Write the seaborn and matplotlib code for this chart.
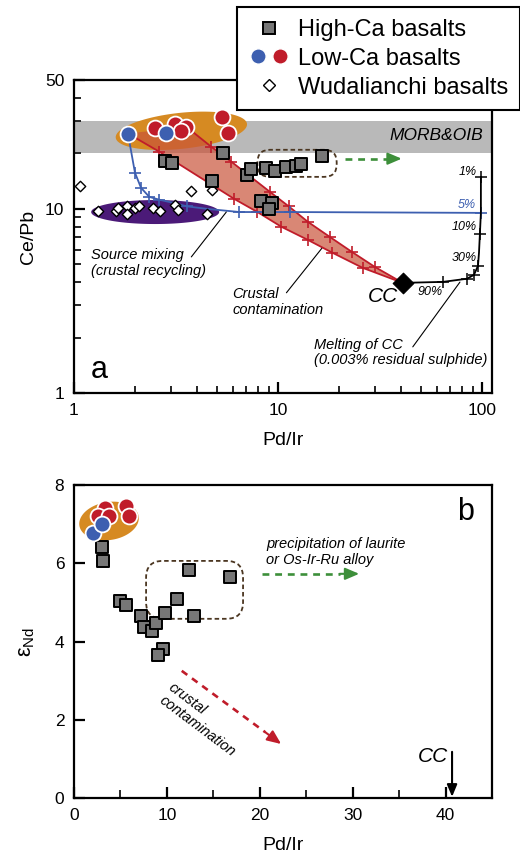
import numpy as np
import matplotlib
matplotlib.use("Agg")
import matplotlib.pyplot as plt
import seaborn as sns
from matplotlib.lines import Line2D
from matplotlib.legend_handler import HandlerTuple
from matplotlib.patches import FancyBboxPatch
from matplotlib.ticker import NullFormatter

# ---------------- panel a data (Pd/Ir vs Ce/Pb) ----------------
hica_pdir_a = [2.80, 3.03, 5.40, 4.77, 7.08, 7.41, 8.78, 9.72, 11.0, 12.3, 13.0, 16.5, 8.3, 9.4, 9.0]
hica_cepb_a = [18.2, 17.8, 20.2, 14.2, 15.3, 16.5, 16.7, 16.1, 16.9, 17.1, 17.4, 19.4, 11.0, 10.8, 10.0]
lowca_blue_pdir_a = [1.84, 2.83]
lowca_blue_cepb_a = [25.6, 25.9]
lowca_red_pdir_a = [2.50, 3.13, 3.55, 3.36, 5.34, 5.71]
lowca_red_cepb_a = [27.6, 29.0, 27.9, 26.5, 31.6, 25.9]
wuda_pdir = [1.07, 1.31, 1.61, 1.64, 1.82, 1.82, 1.99, 2.09, 2.44, 2.65, 3.13, 3.24, 3.76, 4.77, 4.51]
wuda_cepb = [13.3, 9.75, 9.75, 10.1, 10.4, 9.4, 10.1, 10.4, 10.1, 9.75, 10.5, 9.9, 12.5, 12.7, 9.4]
morb_oib_cepb = [20, 30]
cc_pdir, cc_cepb = 40.9, 3.96

# source mixing curve
mix_pdir = [1.84, 1.88, 1.99, 2.13, 2.34, 2.62, 3.03, 3.59, 4.45, 6.47, 11.4, 99.0]
mix_cepb = [25.6, 22.3, 15.7, 13.0, 11.6, 11.2, 10.8, 10.3, 10.0, 9.6, 9.6, 9.5]
mix_mark_idx = [2, 3, 4, 5, 7, 9, 10, 11]

# crustal contamination band (upper & lower curves)
cont_up_pdir = [3.55, 4.71, 5.91, 9.09, 11.3, 14.0, 17.9, 23.0, 29.8, 40.9]
cont_up_cepb = [27.9, 21.7, 18.0, 12.4, 10.3, 8.5, 7.05, 5.84, 4.84, 3.96]
cont_lo_pdir = [1.84, 2.62, 6.11, 7.93, 10.4, 14.0, 18.5, 26.0, 40.9]
cont_lo_cepb = [25.6, 20.4, 11.3, 9.6, 7.98, 6.78, 5.77, 4.78, 3.96]

# melting of CC curve
melt_pdir = [40.9, 64.3, 84.4, 91.4, 95.6, 96.7, 97.7, 98.8, 98.8]
melt_cepb = [3.96, 4.01, 4.17, 4.38, 4.90, 5.77, 7.32, 9.5, 14.9]
melt_mark_idx = [1, 2, 3, 4, 6, 8]
melt_labels = ["90%", "30%", "10%", "1%"]
melt_label_pdir = [55.5, 94.5, 94.5, 94.5]
melt_label_cepb = [3.54, 5.42, 7.98, 15.9]

# ---------------- panel b data (Pd/Ir vs eNd) ----------------
hica_pdir_b = [3.0, 3.1, 5.0, 5.6, 7.2, 7.5, 8.4, 8.8, 9.8, 11.1, 12.4, 16.8, 12.9, 9.6, 9.05]
hica_end_b = [6.42, 6.06, 5.04, 4.94, 4.65, 4.37, 4.27, 4.48, 4.73, 5.09, 5.83, 5.65, 4.65, 3.81, 3.66]
lowca_blue_pdir_b = [2.05, 3.02]
lowca_blue_end_b = [6.78, 7.01]
lowca_red_pdir_b = [3.34, 2.59, 3.77, 5.60, 5.93]
lowca_red_end_b = [7.42, 7.21, 7.21, 7.47, 7.21]
cc_pdir_b = 40.7

# ---------------- style ----------------
sns.set_theme(style="ticks")
plt.rcParams["font.family"] = ["Liberation Sans", "DejaVu Sans"]
plt.rcParams["mathtext.fontset"] = "custom"
plt.rcParams["mathtext.rm"] = "Liberation Sans"
plt.rcParams["mathtext.it"] = "Liberation Sans:italic"
plt.rcParams["text.color"] = "black"
plt.rcParams["axes.labelcolor"] = "black"

GRAY_SQ = "#777777"
BLUE = "#3d5fb0"
RED = "#c01c2a"
ORANGE = "#d68a22"
PURPLE = "#4b1a78"
GREEN = "#3d8f3a"
BROWN = "#4b3621"
BAND = "#c9553a"

W, H = 520, 860
fig = plt.figure(figsize=(5.2, 8.6), dpi=100)


def axpos(l, t, r, b):
    return [l / W, 1 - b / H, (r - l) / W, (b - t) / H]


ax1 = fig.add_axes(axpos(74, 80, 492, 393))
ax2 = fig.add_axes(axpos(74, 485, 492, 798))

for ax in (ax1, ax2):
    for s in ax.spines.values():
        s.set_linewidth(1.6)
        s.set_color("black")
    ax.tick_params(which="major", direction="in", length=8, width=1.6,
                   labelsize=12.5, pad=7, colors="black", top=False, right=False)
    ax.tick_params(which="minor", direction="in", length=5, width=1.4,
                   top=False, right=False)

# ---------- panel a axes ----------
ax1.set_xscale("log")
ax1.set_yscale("log")
ax1.set_xlim(1, 112)
ax1.set_ylim(1, 50)
ax1.set_xticks([1, 10, 100], labels=["1", "10", "100"])
ax1.set_xticks([2, 3, 4, 5, 6, 7, 8, 9, 20, 30, 40, 50, 60, 70, 80, 90], minor=True)
ax1.set_yticks([1, 10, 50], labels=["1", "10", "50"])
ax1.set_yticks([2, 3, 4, 5, 6, 7, 8, 9, 20, 30, 40], minor=True)
ax1.xaxis.set_minor_formatter(NullFormatter())
ax1.yaxis.set_minor_formatter(NullFormatter())
ax1.set_xlabel("Pd/Ir", fontsize=14, labelpad=10)
ax1.set_ylabel("Ce/Pb", fontsize=14, labelpad=6)


def ellipse_pts(ax, cx, cy, a_px, b_px, ang):
    c = ax.transData.transform((cx, cy))
    t = np.linspace(0, 2 * np.pi, 120)
    u, v = a_px * np.cos(t), b_px * np.sin(t)
    r = np.deg2rad(ang)
    pts = np.column_stack([c[0] + u * np.cos(r) - v * np.sin(r),
                           c[1] + u * np.sin(r) + v * np.cos(r)])
    d = ax.transData.inverted().transform(pts)
    return d[:, 0], d[:, 1]


def rbox(ax, x0, y0, x1, y1, rs):
    p0 = ax.transAxes.inverted().transform(ax.transData.transform((x0, y0)))
    p1 = ax.transAxes.inverted().transform(ax.transData.transform((x1, y1)))
    ax.add_patch(FancyBboxPatch((p0[0], p0[1]), p1[0] - p0[0], p1[1] - p0[1],
                                boxstyle=f"round,pad=0,rounding_size={rs}",
                                mutation_aspect=418 / 313,
                                transform=ax.transAxes, fill=False, ec=BROWN,
                                lw=1.3, ls=(0, (2.5, 1.6)), zorder=4))


def dash_arrow(ax, x0, y0, x1, y1, xh, yh, color):
    ax.plot([x0, xh], [y0, yh], color=color, lw=1.9, ls=(0, (2.6, 2.2)), zorder=4)
    ax.annotate("", xy=(x1, y1), xytext=(xh, yh),
                arrowprops=dict(arrowstyle="-|>,head_length=0.7,head_width=0.3",
                                color=color, lw=1.5, shrinkA=0, shrinkB=0), zorder=4)


ax1.axhspan(morb_oib_cepb[0], morb_oib_cepb[1], color="#b9b9b9", lw=0, zorder=0)
ex, ey = ellipse_pts(ax1, 3.36, 26.5, 66, 18, 6)
ax1.fill(ex, ey, color=ORANGE, lw=0, zorder=1)
ex, ey = ellipse_pts(ax1, 2.50, 9.6, 64, 12, 0)
ax1.fill(ex, ey, color=PURPLE, lw=0, zorder=1)

# crustal contamination band
ax1.fill(np.r_[cont_up_pdir, cont_lo_pdir[::-1]], np.r_[cont_up_cepb, cont_lo_cepb[::-1]],
         color=BAND, alpha=0.7, lw=0, zorder=2)
sns.lineplot(x=cont_up_pdir, y=cont_up_cepb, sort=False, estimator=None, color=RED,
             lw=1.3, ax=ax1, zorder=3)
sns.lineplot(x=cont_lo_pdir, y=cont_lo_cepb, sort=False, estimator=None, color=RED,
             lw=1.3, ax=ax1, zorder=3)
ax1.plot(cont_up_pdir[1:-1], cont_up_cepb[1:-1], ls="none", marker="+", ms=9, mew=1.2,
         color=RED, zorder=3)
ax1.plot(cont_lo_pdir[1:-1], cont_lo_cepb[1:-1], ls="none", marker="+", ms=9, mew=1.2,
         color=RED, zorder=3)

# source mixing curve
sns.lineplot(x=mix_pdir, y=mix_cepb, sort=False, estimator=None, color=BLUE, lw=1.3,
             ax=ax1, zorder=3)
ax1.plot([mix_pdir[i] for i in mix_mark_idx], [mix_cepb[i] for i in mix_mark_idx],
         ls="none", marker="+", ms=9, mew=1.2, color=BLUE, zorder=3)

# melting curve
sns.lineplot(x=melt_pdir, y=melt_cepb, sort=False, estimator=None, color="black", lw=1.3,
             ax=ax1, zorder=3)
ax1.plot([melt_pdir[i] for i in melt_mark_idx], [melt_cepb[i] for i in melt_mark_idx],
         ls="none", marker="+", ms=9, mew=1.1, color="black", zorder=3)
for lab, lx, ly in zip(melt_labels, melt_label_pdir, melt_label_cepb):
    ax1.text(lx, ly, lab, fontsize=9, style="italic",
             ha="center" if lab == "90%" else "right", va="center", zorder=7)
ax1.text(93.4, 10.5, "5%", fontsize=9, style="italic", color=BLUE, ha="right", va="center")

# points
sns.scatterplot(x=wuda_pdir, y=wuda_cepb, marker="D", s=28, color="white",
                edgecolor="black", linewidth=1.0, ax=ax1, zorder=5, legend=False)
sns.scatterplot(x=hica_pdir_a, y=hica_cepb_a, marker="s", s=72, color=GRAY_SQ,
                edgecolor="black", linewidth=1.4, ax=ax1, zorder=5, legend=False)
sns.scatterplot(x=lowca_red_pdir_a, y=lowca_red_cepb_a, marker="o", s=130, color=RED,
                edgecolor="white", linewidth=1.3, ax=ax1, zorder=6, legend=False)
sns.scatterplot(x=lowca_blue_pdir_a, y=lowca_blue_cepb_a, marker="o", s=130, color=BLUE,
                edgecolor="white", linewidth=1.3, ax=ax1, zorder=6, legend=False)
sns.scatterplot(x=[cc_pdir], y=[cc_cepb], marker="D", s=110, color="black",
                edgecolor="black", ax=ax1, zorder=6, legend=False)

rbox(ax1, 7.93, 14.9, 19.4, 20.9, 0.03)
dash_arrow(ax1, 21.2, 18.7, 40.4, 18.7, 36.0, 18.7, GREEN)

# annotations panel a
ax1.text(101, 24.9, "MORB&OIB", fontsize=12.5, style="italic", ha="right", va="center")
ax1.text(1.21, 5.06, "Source mixing\n(crustal recycling)", fontsize=10.5, style="italic",
         ha="left", va="center", linespacing=1.15)
ax1.plot([3.76, 5.58], [5.48, 9.6], color="black", lw=0.8, zorder=3)
ax1.text(5.98, 3.12, "Crustal\ncontamination", fontsize=10.5, style="italic",
         ha="left", va="center", linespacing=1.15)
ax1.plot([11.0, 16.4], [3.5, 6.1], color="black", lw=0.8, zorder=3)
ax1.text(15.1, 1.66, "Melting of CC\n(0.003% residual sulphide)", fontsize=10.5,
         style="italic", ha="left", va="center", linespacing=1.15)
ax1.plot([45.8, 78], [1.78, 4.0], color="black", lw=0.8, zorder=3)
ax1.text(32.6, 3.32, "CC", fontsize=15, style="italic", ha="center", va="center")
ax1.text(1.33, 1.33, "a", fontsize=22, ha="center", va="center")

# ---------- panel b axes ----------
ax2.set_xlim(0, 45)
ax2.set_ylim(0, 8)
ax2.set_xticks([0, 10, 20, 30, 40])
ax2.set_xticks([5, 15, 25, 35], minor=True)
ax2.set_yticks([0, 2, 4, 6, 8])
ax2.tick_params(which="minor", length=6)
ax2.set_xlabel("Pd/Ir", fontsize=14, labelpad=10)
ax2.set_ylabel("ε$_{\\rm Nd}$", fontsize=15.5, labelpad=13)

ex, ey = ellipse_pts(ax2, 3.77, 7.08, 30, 19, 9)
ax2.fill(ex, ey, color=ORANGE, lw=0, zorder=1)
sns.scatterplot(x=hica_pdir_b, y=hica_end_b, marker="s", s=72, color=GRAY_SQ,
                edgecolor="black", linewidth=1.4, ax=ax2, zorder=5, legend=False)
sns.scatterplot(x=lowca_red_pdir_b, y=lowca_red_end_b, marker="o", s=130, color=RED,
                edgecolor="white", linewidth=1.3, ax=ax2, zorder=6, legend=False)
sns.scatterplot(x=lowca_blue_pdir_b, y=lowca_blue_end_b, marker="o", s=130, color=BLUE,
                edgecolor="white", linewidth=1.3, ax=ax2, zorder=6, legend=False)

rbox(ax2, 7.76, 4.58, 18.2, 6.06, 0.04)
dash_arrow(ax2, 20.2, 5.73, 30.7, 5.73, 28.6, 5.73, GREEN)
ax2.text(20.7, 6.28, "precipitation of laurite\nor Os-Ir-Ru alloy", fontsize=10.5,
         style="italic", ha="left", va="center", linespacing=1.15)
dash_arrow(ax2, 11.6, 3.25, 22.3, 1.38, 20.6, 1.68, RED)
ax2.text(13.8, 2.0, "crustal\ncontamination", fontsize=10.5, style="italic",
         rotation=-37, rotation_mode="anchor", ha="center", va="center",
         multialignment="left", linespacing=1.1)
ax2.annotate("", xy=(cc_pdir_b, 0.03), xytext=(cc_pdir_b, 1.18),
             arrowprops=dict(arrowstyle="-|>,head_length=0.6,head_width=0.25",
                             color="black", lw=1.5, shrinkA=0, shrinkB=0))
ax2.text(38.6, 1.05, "CC", fontsize=15, style="italic", ha="center", va="center")
ax2.text(42.2, 7.31, "b", fontsize=22, ha="center", va="center")

# ---------- legend ----------
h1 = Line2D([], [], ls="none", marker="s", ms=9, mfc=GRAY_SQ, mec="black", mew=1.4)
hb = Line2D([], [], ls="none", marker="o", ms=11, mfc=BLUE, mec="white", mew=1.0)
hr = Line2D([], [], ls="none", marker="o", ms=11, mfc=RED, mec="white", mew=1.0)
h3 = Line2D([], [], ls="none", marker="D", ms=6.5, mfc="white", mec="black", mew=1.0)
leg = fig.legend([h1, (hb, hr), h3],
                 ["High-Ca basalts", "Low-Ca basalts", "Wudalianchi basalts"],
                 handler_map={tuple: HandlerTuple(ndivide=None, pad=0.1)},
                 loc="upper left", bbox_to_anchor=(237 / W, 1 - 7 / H),
                 fontsize=17, frameon=True, fancybox=False, edgecolor="black",
                 framealpha=1, borderpad=0.5, labelspacing=0.29, handletextpad=0.4,
                 handlelength=1.7, borderaxespad=0)
leg.get_frame().set_linewidth(1.5)
for t in leg.get_texts():
    t.set_color("black")

fig.savefig("out.png", dpi=100)
